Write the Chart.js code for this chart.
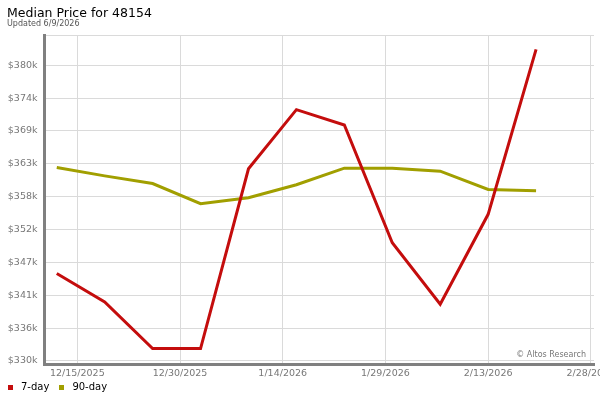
<!DOCTYPE html>
<html>
<head>
<meta charset="utf-8">
<title>Median Price for 48154</title>
<script src="https://cdn.jsdelivr.net/npm/chart.js@4/dist/chart.umd.min.js"></script>
<style>
  html, body { margin: 0; padding: 0; background: #fff; }
  #wrap { position: relative; width: 600px; height: 400px; }
  #legend { position: absolute; left: 8px; top: 380.5px; display: flex; font: 10px 'DejaVu Sans', sans-serif; line-height: 12px; color: #000; }
  #legend .item { display: flex; align-items: center; margin-right: 10px; }
  #legend .box { width: 5px; height: 5px; margin-right: 8px; position: relative; top: 1px; }
</style>
</head>
<body>
<div id="wrap">
  <canvas id="priceChart"></canvas>
  <div id="legend"></div>
</div>
<script>
// weekly points
const weekDates = ['12/12/2025', '12/19/2025', '12/26/2025', '1/2/2026', '1/9/2026', '1/16/2026',
                   '1/23/2026', '1/30/2026', '2/6/2026', '2/13/2026', '2/20/2026'];
const sevenDay = [344800, 340000, 332100, 332100, 362500, 372500, 369900, 350000, 339600, 354800, 382700];
const ninetyDay = [362700, 361300, 360000, 356600, 357600, 359800, 362600, 362600, 362100, 359000, 358800];

const xTickDates = ['12/15/2025', '12/30/2025', '1/14/2026', '1/29/2026', '2/13/2026', '2/28/2026'];
const yTickValues = [330000, 335556, 341111, 346667, 352222, 357778, 363333, 368889, 374444, 380000, 385000];
const yTickLabels = ['$330k', '$336k', '$341k', '$347k', '$352k', '$358k', '$363k', '$369k', '$374k', '$380k', ''];

const RED = '#c40d0d';
const OLIVE = '#a19f00';

function dayNum(s) {
    const [m, d, y] = s.split('/').map(Number);
    return Date.UTC(y, m - 1, d) / 86400000;
}

const toPoints = vals => vals.map((v, i) => ({ x: dayNum(weekDates[i]), y: v }));
const firstTick = dayNum(xTickDates[0]);

Chart.defaults.font.family = "'DejaVu Sans', sans-serif";

const watermark = {
    id: 'watermark',
    beforeDatasetsDraw(chart) {
        const { ctx, chartArea } = chart;
        ctx.save();
        ctx.font = "8px 'DejaVu Sans', sans-serif";
        ctx.fillStyle = '#777';
        ctx.textAlign = 'right';
        ctx.textBaseline = 'alphabetic';
        ctx.fillText('\u00a9 Altos Research', chartArea.right - 8, chartArea.bottom - 7.3);
        ctx.restore();
    }
};

const chart = new Chart(document.getElementById('priceChart'), {
    type: 'line',
    data: {
        datasets: [
            { label: '7-day', data: toPoints(sevenDay), borderColor: RED, backgroundColor: RED },
            { label: '90-day', data: toPoints(ninetyDay), borderColor: OLIVE, backgroundColor: OLIVE }
        ]
    },
    options: {
        responsive: true, maintainAspectRatio: false, animation: false,
        layout: { padding: { left: 7, right: 6, top: 0, bottom: 0 } },
        elements: {
            line: { borderWidth: 3, tension: 0 },
            point: { radius: 0, hoverRadius: 0 }
        },
        plugins: {
            legend: { display: false },
            tooltip: { enabled: false },
            title: {
                display: true, text: 'Median Price for 48154', align: 'start', color: '#000',
                font: { size: 12.5, weight: 'normal', lineHeight: 1 }, padding: { top: 7.5, bottom: 0 }
            },
            subtitle: {
                display: true, text: 'Updated 6/9/2026', align: 'start', color: '#555',
                font: { size: 8, lineHeight: 1 }, padding: { top: 0, bottom: 7.7 }
            }
        },
        scales: {
            x: {
                type: 'linear',
                min: firstTick - 4.79, max: firstTick + 75.46,
                afterBuildTicks: s => { s.ticks = xTickDates.map(d => ({ value: dayNum(d) })); },
                afterFit: s => { s.height = 36; s.paddingLeft = 0; s.paddingRight = 0; },
                border: { color: '#808080', width: 3 },
                grid: { color: '#dadada', drawTicks: false },
                ticks: {
                    color: '#777', font: { size: 9.5 }, padding: 4, autoSkip: false, maxRotation: 0,
                    callback: (v, i) => xTickDates[i]
                }
            },
            y: {
                min: 329490, max: 385000,
                afterBuildTicks: s => { s.ticks = yTickValues.map(v => ({ value: v })); },
                afterFit: s => { s.width = 37.5; s.paddingTop = 0; s.paddingBottom = 0; },
                border: { color: '#808080', width: 3 },
                grid: { color: '#dadada', drawTicks: false },
                ticks: {
                    color: '#777', font: { size: 9.5 }, padding: 7,
                    callback: (v, i) => yTickLabels[i]
                }
            }
        }
    },
    plugins: [watermark]
});

// legend drawn as plain html under the plot
const legendEl = document.getElementById('legend');
chart.data.datasets.forEach(ds => {
    const item = document.createElement('span');
    item.className = 'item';
    const box = document.createElement('span');
    box.className = 'box';
    box.style.background = ds.borderColor;
    item.appendChild(box);
    item.appendChild(document.createTextNode(ds.label));
    legendEl.appendChild(item);
});
</script>
</body>
</html>
